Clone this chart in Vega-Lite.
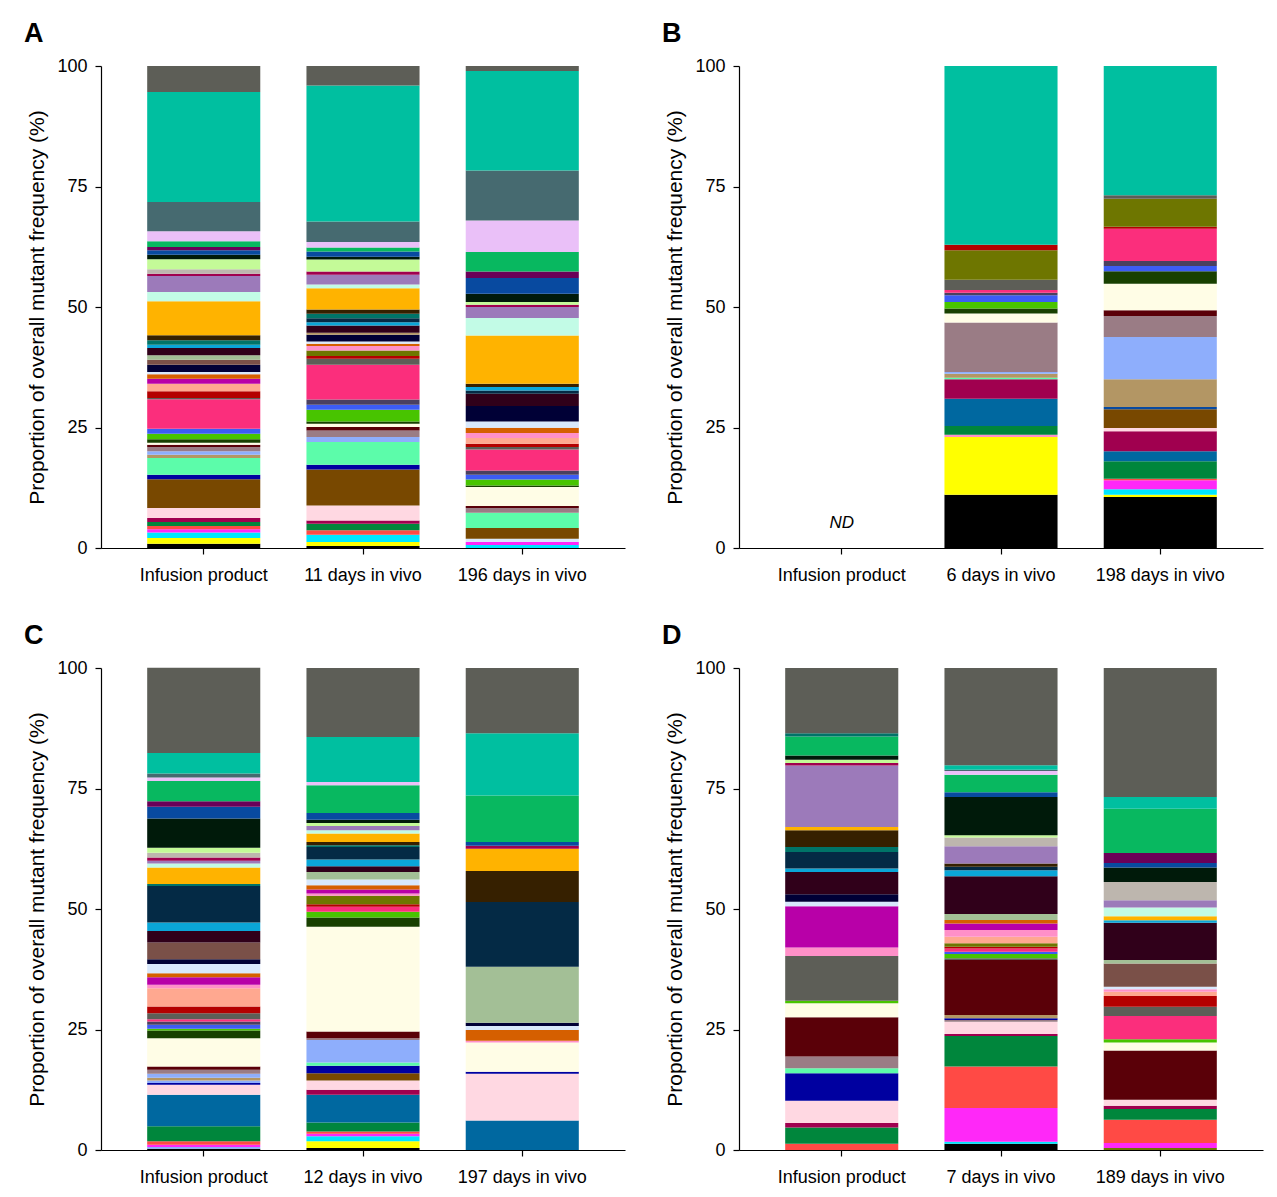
{
"$schema":"https://vega.github.io/schema/vega-lite/v6.json",
"background":"white",
"padding":{"left":24,"top":20,"right":5,"bottom":5},
"config":{"font":"Liberation Sans","view":{"stroke":null},
"axis":{"grid":false,"domainColor":"#000","tickColor":"#000","labelColor":"#000","titleColor":"#000","labelFontSize":18,"titleFontSize":21,"titleFontWeight":"normal","tickSize":6,"labelFont":"Liberation Sans","titleFont":"Liberation Sans","domainWidth":1.2,"tickWidth":1.2},
"axisY":{"labelPadding":8,"titlePadding":9},
"axisX":{"labelPadding":12}},
"spacing":{"row":38,"column":37},
"columns":2,
"resolve":{"scale":{"x":"independent","y":"independent"}},
"data":{"values":[
{"p":"A","b":"Infusion product","o":1,"c":"black","v":0.90},
{"p":"A","b":"Infusion product","o":2,"c":"yellow","v":1.18},
{"p":"A","b":"Infusion product","o":3,"c":"aqua","v":1.11},
{"p":"A","b":"Infusion product","o":4,"c":"fuchsia","v":0.69},
{"p":"A","b":"Infusion product","o":5,"c":"coral","v":0.69},
{"p":"A","b":"Infusion product","o":6,"c":"forest","v":0.83},
{"p":"A","b":"Infusion product","o":7,"c":"crimson","v":0.83},
{"p":"A","b":"Infusion product","o":8,"c":"palepink","v":2.07},
{"p":"A","b":"Infusion product","o":9,"c":"brown","v":5.95},
{"p":"A","b":"Infusion product","o":10,"c":"darkblue","v":0.97},
{"p":"A","b":"Infusion product","o":11,"c":"seafoam","v":3.46},
{"p":"A","b":"Infusion product","o":12,"c":"tan","v":0.69},
{"p":"A","b":"Infusion product","o":13,"c":"periwinkle","v":0.69},
{"p":"A","b":"Infusion product","o":14,"c":"greymauve","v":0.90},
{"p":"A","b":"Infusion product","o":15,"c":"darkred","v":0.48},
{"p":"A","b":"Infusion product","o":16,"c":"cream","v":0.41},
{"p":"A","b":"Infusion product","o":17,"c":"dkgreen2","v":0.69},
{"p":"A","b":"Infusion product","o":18,"c":"lgreen","v":1.18},
{"p":"A","b":"Infusion product","o":19,"c":"blue","v":1.04},
{"p":"A","b":"Infusion product","o":20,"c":"hotpink","v":6.09},
{"p":"A","b":"Infusion product","o":21,"c":"grey","v":0.28},
{"p":"A","b":"Infusion product","o":22,"c":"red","v":1.38},
{"p":"A","b":"Infusion product","o":23,"c":"salmon","v":1.59},
{"p":"A","b":"Infusion product","o":24,"c":"magenta","v":1.04},
{"p":"A","b":"Infusion product","o":25,"c":"rust","v":0.90},
{"p":"A","b":"Infusion product","o":26,"c":"paleblue","v":0.48},
{"p":"A","b":"Infusion product","o":27,"c":"midnight","v":1.52},
{"p":"A","b":"Infusion product","o":28,"c":"brownred","v":1.04},
{"p":"A","b":"Infusion product","o":29,"c":"sage","v":0.90},
{"p":"A","b":"Infusion product","o":30,"c":"maroondark","v":1.52},
{"p":"A","b":"Infusion product","o":31,"c":"cyanblue","v":0.69},
{"p":"A","b":"Infusion product","o":32,"c":"tealdark","v":0.90},
{"p":"A","b":"Infusion product","o":33,"c":"darkbrown","v":1.04},
{"p":"A","b":"Infusion product","o":34,"c":"orange","v":7.05},
{"p":"A","b":"Infusion product","o":35,"c":"mint","v":1.94},
{"p":"A","b":"Infusion product","o":36,"c":"mauve","v":3.32},
{"p":"A","b":"Infusion product","o":37,"c":"crimson","v":0.48},
{"p":"A","b":"Infusion product","o":38,"c":"silver","v":0.90},
{"p":"A","b":"Infusion product","o":39,"c":"lime","v":2.07},
{"p":"A","b":"Infusion product","o":40,"c":"darkgreen","v":0.97},
{"p":"A","b":"Infusion product","o":41,"c":"navy","v":0.90},
{"p":"A","b":"Infusion product","o":42,"c":"purple","v":0.69},
{"p":"A","b":"Infusion product","o":43,"c":"green","v":1.18},
{"p":"A","b":"Infusion product","o":44,"c":"lavender","v":2.07},
{"p":"A","b":"Infusion product","o":45,"c":"slate","v":6.09},
{"p":"A","b":"Infusion product","o":46,"c":"teal","v":22.82},
{"p":"A","b":"Infusion product","o":47,"c":"grey","v":5.39},
{"p":"A","b":"11 days in vivo","o":1,"c":"black","v":0.41},
{"p":"A","b":"11 days in vivo","o":2,"c":"yellow","v":0.83},
{"p":"A","b":"11 days in vivo","o":3,"c":"aqua","v":1.52},
{"p":"A","b":"11 days in vivo","o":4,"c":"coral","v":0.90},
{"p":"A","b":"11 days in vivo","o":5,"c":"forest","v":1.38},
{"p":"A","b":"11 days in vivo","o":6,"c":"crimson","v":0.69},
{"p":"A","b":"11 days in vivo","o":7,"c":"palepink","v":3.11},
{"p":"A","b":"11 days in vivo","o":8,"c":"brown","v":7.47},
{"p":"A","b":"11 days in vivo","o":9,"c":"darkblue","v":0.97},
{"p":"A","b":"11 days in vivo","o":10,"c":"seafoam","v":4.70},
{"p":"A","b":"11 days in vivo","o":11,"c":"periwinkle","v":1.04},
{"p":"A","b":"11 days in vivo","o":12,"c":"greymauve","v":1.38},
{"p":"A","b":"11 days in vivo","o":13,"c":"darkred","v":0.69},
{"p":"A","b":"11 days in vivo","o":14,"c":"cream","v":0.69},
{"p":"A","b":"11 days in vivo","o":15,"c":"dkgreen2","v":0.48},
{"p":"A","b":"11 days in vivo","o":16,"c":"lgreen","v":2.42},
{"p":"A","b":"11 days in vivo","o":17,"c":"blue","v":1.04},
{"p":"A","b":"11 days in vivo","o":18,"c":"slatepurple","v":1.11},
{"p":"A","b":"11 days in vivo","o":19,"c":"hotpink","v":7.19},
{"p":"A","b":"11 days in vivo","o":20,"c":"grey","v":1.24},
{"p":"A","b":"11 days in vivo","o":21,"c":"red","v":0.55},
{"p":"A","b":"11 days in vivo","o":22,"c":"olive","v":1.18},
{"p":"A","b":"11 days in vivo","o":23,"c":"pink","v":0.90},
{"p":"A","b":"11 days in vivo","o":24,"c":"rust","v":0.48},
{"p":"A","b":"11 days in vivo","o":25,"c":"paleblue","v":0.48},
{"p":"A","b":"11 days in vivo","o":26,"c":"midnight","v":1.38},
{"p":"A","b":"11 days in vivo","o":27,"c":"tan","v":0.41},
{"p":"A","b":"11 days in vivo","o":28,"c":"maroondark","v":1.52},
{"p":"A","b":"11 days in vivo","o":29,"c":"cyanblue","v":0.69},
{"p":"A","b":"11 days in vivo","o":30,"c":"darknavy","v":0.83},
{"p":"A","b":"11 days in vivo","o":31,"c":"tealdark","v":0.90},
{"p":"A","b":"11 days in vivo","o":32,"c":"darkbrown","v":0.90},
{"p":"A","b":"11 days in vivo","o":33,"c":"orange","v":4.43},
{"p":"A","b":"11 days in vivo","o":34,"c":"mint","v":0.76},
{"p":"A","b":"11 days in vivo","o":35,"c":"mauve","v":2.01},
{"p":"A","b":"11 days in vivo","o":36,"c":"crimson","v":0.69},
{"p":"A","b":"11 days in vivo","o":37,"c":"lime","v":2.49},
{"p":"A","b":"11 days in vivo","o":38,"c":"darkgreen","v":0.55},
{"p":"A","b":"11 days in vivo","o":39,"c":"navy","v":1.11},
{"p":"A","b":"11 days in vivo","o":40,"c":"green","v":0.83},
{"p":"A","b":"11 days in vivo","o":41,"c":"lavender","v":1.11},
{"p":"A","b":"11 days in vivo","o":42,"c":"slate","v":4.29},
{"p":"A","b":"11 days in vivo","o":43,"c":"teal","v":28.22},
{"p":"A","b":"11 days in vivo","o":44,"c":"grey","v":4.01},
{"p":"A","b":"196 days in vivo","o":1,"c":"aqua","v":0.62},
{"p":"A","b":"196 days in vivo","o":2,"c":"fuchsia","v":0.62},
{"p":"A","b":"196 days in vivo","o":3,"c":"paleblue","v":0.69},
{"p":"A","b":"196 days in vivo","o":4,"c":"brown","v":2.21},
{"p":"A","b":"196 days in vivo","o":5,"c":"seafoam","v":3.18},
{"p":"A","b":"196 days in vivo","o":6,"c":"greymauve","v":0.97},
{"p":"A","b":"196 days in vivo","o":7,"c":"darkred","v":0.41},
{"p":"A","b":"196 days in vivo","o":8,"c":"cream","v":3.94},
{"p":"A","b":"196 days in vivo","o":9,"c":"dkgreen2","v":0.35},
{"p":"A","b":"196 days in vivo","o":10,"c":"lgreen","v":1.24},
{"p":"A","b":"196 days in vivo","o":11,"c":"blue","v":0.97},
{"p":"A","b":"196 days in vivo","o":12,"c":"slatepurple","v":0.90},
{"p":"A","b":"196 days in vivo","o":13,"c":"hotpink","v":4.36},
{"p":"A","b":"196 days in vivo","o":14,"c":"grey","v":0.48},
{"p":"A","b":"196 days in vivo","o":15,"c":"red","v":0.69},
{"p":"A","b":"196 days in vivo","o":16,"c":"salmon","v":1.18},
{"p":"A","b":"196 days in vivo","o":17,"c":"pink","v":1.04},
{"p":"A","b":"196 days in vivo","o":18,"c":"rust","v":1.11},
{"p":"A","b":"196 days in vivo","o":19,"c":"paleblue","v":1.31},
{"p":"A","b":"196 days in vivo","o":20,"c":"midnight","v":3.18},
{"p":"A","b":"196 days in vivo","o":21,"c":"maroondark","v":2.56},
{"p":"A","b":"196 days in vivo","o":22,"c":"darknavy","v":0.69},
{"p":"A","b":"196 days in vivo","o":23,"c":"cyanblue","v":0.69},
{"p":"A","b":"196 days in vivo","o":24,"c":"darkbrown","v":0.69},
{"p":"A","b":"196 days in vivo","o":25,"c":"orange","v":10.03},
{"p":"A","b":"196 days in vivo","o":26,"c":"mint","v":3.60},
{"p":"A","b":"196 days in vivo","o":27,"c":"mauve","v":2.28},
{"p":"A","b":"196 days in vivo","o":28,"c":"crimson","v":0.48},
{"p":"A","b":"196 days in vivo","o":29,"c":"lime","v":0.55},
{"p":"A","b":"196 days in vivo","o":30,"c":"darkgreen","v":1.73},
{"p":"A","b":"196 days in vivo","o":31,"c":"navy","v":3.25},
{"p":"A","b":"196 days in vivo","o":32,"c":"purple","v":1.38},
{"p":"A","b":"196 days in vivo","o":33,"c":"green","v":4.01},
{"p":"A","b":"196 days in vivo","o":34,"c":"lavender","v":6.57},
{"p":"A","b":"196 days in vivo","o":35,"c":"slate","v":10.37},
{"p":"A","b":"196 days in vivo","o":36,"c":"teal","v":20.61},
{"p":"A","b":"196 days in vivo","o":37,"c":"grey","v":1.04},
{"p":"B","b":"6 days in vivo","o":1,"c":"black","v":11.07},
{"p":"B","b":"6 days in vivo","o":2,"c":"yellow","v":11.96},
{"p":"B","b":"6 days in vivo","o":3,"c":"pink","v":0.48},
{"p":"B","b":"6 days in vivo","o":4,"c":"forest","v":1.80},
{"p":"B","b":"6 days in vivo","o":5,"c":"steelblue","v":5.67},
{"p":"B","b":"6 days in vivo","o":6,"c":"crimson","v":4.01},
{"p":"B","b":"6 days in vivo","o":7,"c":"seafoam","v":0.35},
{"p":"B","b":"6 days in vivo","o":8,"c":"tan","v":0.83},
{"p":"B","b":"6 days in vivo","o":9,"c":"periwinkle","v":0.35},
{"p":"B","b":"6 days in vivo","o":10,"c":"greymauve","v":10.24},
{"p":"B","b":"6 days in vivo","o":11,"c":"cream","v":1.87},
{"p":"B","b":"6 days in vivo","o":12,"c":"dkgreen2","v":1.04},
{"p":"B","b":"6 days in vivo","o":13,"c":"lgreen","v":1.38},
{"p":"B","b":"6 days in vivo","o":14,"c":"blue","v":1.38},
{"p":"B","b":"6 days in vivo","o":15,"c":"slatepurple","v":0.55},
{"p":"B","b":"6 days in vivo","o":16,"c":"hotpink","v":0.55},
{"p":"B","b":"6 days in vivo","o":17,"c":"grey","v":2.14},
{"p":"B","b":"6 days in vivo","o":18,"c":"olive","v":6.09},
{"p":"B","b":"6 days in vivo","o":19,"c":"red","v":1.18},
{"p":"B","b":"6 days in vivo","o":20,"c":"teal","v":37.07},
{"p":"B","b":"198 days in vivo","o":1,"c":"black","v":10.58},
{"p":"B","b":"198 days in vivo","o":2,"c":"yellow","v":0.48},
{"p":"B","b":"198 days in vivo","o":3,"c":"aqua","v":1.11},
{"p":"B","b":"198 days in vivo","o":4,"c":"fuchsia","v":1.87},
{"p":"B","b":"198 days in vivo","o":5,"c":"coral","v":0.35},
{"p":"B","b":"198 days in vivo","o":6,"c":"forest","v":3.60},
{"p":"B","b":"198 days in vivo","o":7,"c":"steelblue","v":2.07},
{"p":"B","b":"198 days in vivo","o":8,"c":"crimson","v":4.15},
{"p":"B","b":"198 days in vivo","o":9,"c":"palepink","v":0.69},
{"p":"B","b":"198 days in vivo","o":10,"c":"brown","v":3.87},
{"p":"B","b":"198 days in vivo","o":11,"c":"navy","v":0.48},
{"p":"B","b":"198 days in vivo","o":12,"c":"tan","v":5.74},
{"p":"B","b":"198 days in vivo","o":13,"c":"periwinkle","v":8.78},
{"p":"B","b":"198 days in vivo","o":14,"c":"greymauve","v":4.36},
{"p":"B","b":"198 days in vivo","o":15,"c":"darkred","v":1.18},
{"p":"B","b":"198 days in vivo","o":16,"c":"cream","v":5.53},
{"p":"B","b":"198 days in vivo","o":17,"c":"dkgreen2","v":2.56},
{"p":"B","b":"198 days in vivo","o":18,"c":"blue","v":1.11},
{"p":"B","b":"198 days in vivo","o":19,"c":"slatepurple","v":1.04},
{"p":"B","b":"198 days in vivo","o":20,"c":"hotpink","v":6.71},
{"p":"B","b":"198 days in vivo","o":21,"c":"red","v":0.41},
{"p":"B","b":"198 days in vivo","o":22,"c":"olive","v":5.81},
{"p":"B","b":"198 days in vivo","o":23,"c":"grey","v":0.69},
{"p":"B","b":"198 days in vivo","o":24,"c":"teal","v":26.83},
{"p":"C","b":"Infusion product","o":1,"c":"black","v":0.28},
{"p":"C","b":"Infusion product","o":2,"c":"periwinkle","v":0.35},
{"p":"C","b":"Infusion product","o":3,"c":"fuchsia","v":0.48},
{"p":"C","b":"Infusion product","o":4,"c":"coral","v":0.69},
{"p":"C","b":"Infusion product","o":5,"c":"forest","v":3.11},
{"p":"C","b":"Infusion product","o":6,"c":"steelblue","v":6.56},
{"p":"C","b":"Infusion product","o":7,"c":"palepink","v":2.07},
{"p":"C","b":"Infusion product","o":8,"c":"darkblue","v":0.35},
{"p":"C","b":"Infusion product","o":9,"c":"periwinkle","v":0.55},
{"p":"C","b":"Infusion product","o":10,"c":"tan","v":0.55},
{"p":"C","b":"Infusion product","o":11,"c":"periwinkle","v":0.83},
{"p":"C","b":"Infusion product","o":12,"c":"greymauve","v":0.83},
{"p":"C","b":"Infusion product","o":13,"c":"darkred","v":0.69},
{"p":"C","b":"Infusion product","o":14,"c":"cream","v":5.87},
{"p":"C","b":"Infusion product","o":15,"c":"dkgreen2","v":1.59},
{"p":"C","b":"Infusion product","o":16,"c":"lgreen","v":0.35},
{"p":"C","b":"Infusion product","o":17,"c":"blue","v":0.83},
{"p":"C","b":"Infusion product","o":18,"c":"slatepurple","v":0.69},
{"p":"C","b":"Infusion product","o":19,"c":"hotpink","v":0.48},
{"p":"C","b":"Infusion product","o":20,"c":"grey","v":1.24},
{"p":"C","b":"Infusion product","o":21,"c":"red","v":1.38},
{"p":"C","b":"Infusion product","o":22,"c":"salmon","v":3.80},
{"p":"C","b":"Infusion product","o":23,"c":"pink","v":0.69},
{"p":"C","b":"Infusion product","o":24,"c":"magenta","v":1.59},
{"p":"C","b":"Infusion product","o":25,"c":"rust","v":0.83},
{"p":"C","b":"Infusion product","o":26,"c":"paleblue","v":1.93},
{"p":"C","b":"Infusion product","o":27,"c":"midnight","v":0.97},
{"p":"C","b":"Infusion product","o":28,"c":"brownred","v":3.45},
{"p":"C","b":"Infusion product","o":29,"c":"maroondark","v":2.42},
{"p":"C","b":"Infusion product","o":30,"c":"cyanblue","v":1.73},
{"p":"C","b":"Infusion product","o":31,"c":"darknavy","v":7.59},
{"p":"C","b":"Infusion product","o":32,"c":"tealdark","v":0.41},
{"p":"C","b":"Infusion product","o":33,"c":"orange","v":3.45},
{"p":"C","b":"Infusion product","o":34,"c":"mint","v":0.83},
{"p":"C","b":"Infusion product","o":35,"c":"mauve","v":0.55},
{"p":"C","b":"Infusion product","o":36,"c":"crimson","v":0.69},
{"p":"C","b":"Infusion product","o":37,"c":"silver","v":0.97},
{"p":"C","b":"Infusion product","o":38,"c":"lime","v":1.04},
{"p":"C","b":"Infusion product","o":39,"c":"darkgreen","v":6.07},
{"p":"C","b":"Infusion product","o":40,"c":"navy","v":2.42},
{"p":"C","b":"Infusion product","o":41,"c":"purple","v":1.17},
{"p":"C","b":"Infusion product","o":42,"c":"green","v":4.21},
{"p":"C","b":"Infusion product","o":43,"c":"lavender","v":0.69},
{"p":"C","b":"Infusion product","o":44,"c":"slate","v":0.83},
{"p":"C","b":"Infusion product","o":45,"c":"teal","v":4.28},
{"p":"C","b":"Infusion product","o":46,"c":"grey","v":17.67},
{"p":"C","b":"12 days in vivo","o":1,"c":"black","v":0.41},
{"p":"C","b":"12 days in vivo","o":2,"c":"yellow","v":1.38},
{"p":"C","b":"12 days in vivo","o":3,"c":"aqua","v":1.04},
{"p":"C","b":"12 days in vivo","o":4,"c":"fuchsia","v":0.55},
{"p":"C","b":"12 days in vivo","o":5,"c":"coral","v":0.48},
{"p":"C","b":"12 days in vivo","o":6,"c":"forest","v":1.86},
{"p":"C","b":"12 days in vivo","o":7,"c":"steelblue","v":5.73},
{"p":"C","b":"12 days in vivo","o":8,"c":"crimson","v":1.04},
{"p":"C","b":"12 days in vivo","o":9,"c":"palepink","v":1.93},
{"p":"C","b":"12 days in vivo","o":10,"c":"brown","v":1.52},
{"p":"C","b":"12 days in vivo","o":11,"c":"darkblue","v":1.52},
{"p":"C","b":"12 days in vivo","o":12,"c":"seafoam","v":0.69},
{"p":"C","b":"12 days in vivo","o":13,"c":"periwinkle","v":4.69},
{"p":"C","b":"12 days in vivo","o":14,"c":"greymauve","v":0.35},
{"p":"C","b":"12 days in vivo","o":15,"c":"darkred","v":1.38},
{"p":"C","b":"12 days in vivo","o":16,"c":"cream","v":21.74},
{"p":"C","b":"12 days in vivo","o":17,"c":"dkgreen2","v":1.93},
{"p":"C","b":"12 days in vivo","o":18,"c":"lgreen","v":1.17},
{"p":"C","b":"12 days in vivo","o":19,"c":"hotpink","v":1.04},
{"p":"C","b":"12 days in vivo","o":20,"c":"red","v":0.55},
{"p":"C","b":"12 days in vivo","o":21,"c":"olive","v":1.73},
{"p":"C","b":"12 days in vivo","o":22,"c":"pink","v":0.48},
{"p":"C","b":"12 days in vivo","o":23,"c":"magenta","v":0.83},
{"p":"C","b":"12 days in vivo","o":24,"c":"rust","v":0.90},
{"p":"C","b":"12 days in vivo","o":25,"c":"paleblue","v":1.17},
{"p":"C","b":"12 days in vivo","o":26,"c":"sage","v":1.59},
{"p":"C","b":"12 days in vivo","o":27,"c":"maroondark","v":1.17},
{"p":"C","b":"12 days in vivo","o":28,"c":"cyanblue","v":1.38},
{"p":"C","b":"12 days in vivo","o":29,"c":"darknavy","v":2.62},
{"p":"C","b":"12 days in vivo","o":30,"c":"tealdark","v":0.35},
{"p":"C","b":"12 days in vivo","o":31,"c":"darkbrown","v":0.69},
{"p":"C","b":"12 days in vivo","o":32,"c":"orange","v":1.73},
{"p":"C","b":"12 days in vivo","o":33,"c":"mint","v":0.69},
{"p":"C","b":"12 days in vivo","o":34,"c":"mauve","v":0.90},
{"p":"C","b":"12 days in vivo","o":35,"c":"lime","v":0.62},
{"p":"C","b":"12 days in vivo","o":36,"c":"darkgreen","v":0.69},
{"p":"C","b":"12 days in vivo","o":37,"c":"navy","v":1.38},
{"p":"C","b":"12 days in vivo","o":38,"c":"green","v":5.73},
{"p":"C","b":"12 days in vivo","o":39,"c":"lavender","v":0.69},
{"p":"C","b":"12 days in vivo","o":40,"c":"teal","v":9.32},
{"p":"C","b":"12 days in vivo","o":41,"c":"grey","v":14.35},
{"p":"C","b":"197 days in vivo","o":1,"c":"steelblue","v":6.14},
{"p":"C","b":"197 days in vivo","o":2,"c":"palepink","v":9.66},
{"p":"C","b":"197 days in vivo","o":3,"c":"darkblue","v":0.41},
{"p":"C","b":"197 days in vivo","o":4,"c":"cream","v":6.07},
{"p":"C","b":"197 days in vivo","o":5,"c":"pink","v":0.41},
{"p":"C","b":"197 days in vivo","o":6,"c":"rust","v":2.21},
{"p":"C","b":"197 days in vivo","o":7,"c":"paleblue","v":0.83},
{"p":"C","b":"197 days in vivo","o":8,"c":"midnight","v":0.69},
{"p":"C","b":"197 days in vivo","o":9,"c":"sage","v":11.59},
{"p":"C","b":"197 days in vivo","o":10,"c":"darknavy","v":13.46},
{"p":"C","b":"197 days in vivo","o":11,"c":"darkbrown","v":6.42},
{"p":"C","b":"197 days in vivo","o":12,"c":"orange","v":4.62},
{"p":"C","b":"197 days in vivo","o":13,"c":"crimson","v":0.62},
{"p":"C","b":"197 days in vivo","o":14,"c":"navy","v":0.76},
{"p":"C","b":"197 days in vivo","o":15,"c":"green","v":9.66},
{"p":"C","b":"197 days in vivo","o":16,"c":"teal","v":12.91},
{"p":"C","b":"197 days in vivo","o":17,"c":"grey","v":13.53},
{"p":"D","b":"Infusion product","o":1,"c":"coral","v":1.31},
{"p":"D","b":"Infusion product","o":2,"c":"forest","v":3.38},
{"p":"D","b":"Infusion product","o":3,"c":"crimson","v":0.90},
{"p":"D","b":"Infusion product","o":4,"c":"palepink","v":4.62},
{"p":"D","b":"Infusion product","o":5,"c":"darkblue","v":5.73},
{"p":"D","b":"Infusion product","o":6,"c":"seafoam","v":1.04},
{"p":"D","b":"Infusion product","o":7,"c":"greymauve","v":2.42},
{"p":"D","b":"Infusion product","o":8,"c":"darkred","v":8.14},
{"p":"D","b":"Infusion product","o":9,"c":"cream","v":2.90},
{"p":"D","b":"Infusion product","o":10,"c":"lgreen","v":0.55},
{"p":"D","b":"Infusion product","o":11,"c":"grey","v":9.25},
{"p":"D","b":"Infusion product","o":12,"c":"pink","v":1.79},
{"p":"D","b":"Infusion product","o":13,"c":"magenta","v":8.56},
{"p":"D","b":"Infusion product","o":14,"c":"paleblue","v":0.90},
{"p":"D","b":"Infusion product","o":15,"c":"midnight","v":1.59},
{"p":"D","b":"Infusion product","o":16,"c":"maroondark","v":4.62},
{"p":"D","b":"Infusion product","o":17,"c":"cyanblue","v":0.69},
{"p":"D","b":"Infusion product","o":18,"c":"darknavy","v":3.45},
{"p":"D","b":"Infusion product","o":19,"c":"tealdark","v":1.04},
{"p":"D","b":"Infusion product","o":20,"c":"darkbrown","v":3.45},
{"p":"D","b":"Infusion product","o":21,"c":"orange","v":0.69},
{"p":"D","b":"Infusion product","o":22,"c":"mauve","v":12.77},
{"p":"D","b":"Infusion product","o":23,"c":"crimson","v":0.48},
{"p":"D","b":"Infusion product","o":24,"c":"lime","v":0.69},
{"p":"D","b":"Infusion product","o":25,"c":"darkgreen","v":0.90},
{"p":"D","b":"Infusion product","o":26,"c":"green","v":3.93},
{"p":"D","b":"Infusion product","o":27,"c":"tealdark","v":0.69},
{"p":"D","b":"Infusion product","o":28,"c":"grey","v":13.53},
{"p":"D","b":"7 days in vivo","o":1,"c":"black","v":1.31},
{"p":"D","b":"7 days in vivo","o":2,"c":"aqua","v":0.41},
{"p":"D","b":"7 days in vivo","o":3,"c":"fuchsia","v":6.97},
{"p":"D","b":"7 days in vivo","o":4,"c":"coral","v":8.63},
{"p":"D","b":"7 days in vivo","o":5,"c":"forest","v":6.35},
{"p":"D","b":"7 days in vivo","o":6,"c":"crimson","v":0.41},
{"p":"D","b":"7 days in vivo","o":7,"c":"palepink","v":2.55},
{"p":"D","b":"7 days in vivo","o":8,"c":"greymauve","v":0.35},
{"p":"D","b":"7 days in vivo","o":9,"c":"darkblue","v":0.35},
{"p":"D","b":"7 days in vivo","o":10,"c":"tan","v":0.69},
{"p":"D","b":"7 days in vivo","o":11,"c":"darkred","v":11.39},
{"p":"D","b":"7 days in vivo","o":12,"c":"grey","v":0.35},
{"p":"D","b":"7 days in vivo","o":13,"c":"lgreen","v":0.90},
{"p":"D","b":"7 days in vivo","o":14,"c":"blue","v":0.48},
{"p":"D","b":"7 days in vivo","o":15,"c":"hotpink","v":0.69},
{"p":"D","b":"7 days in vivo","o":16,"c":"red","v":0.35},
{"p":"D","b":"7 days in vivo","o":17,"c":"olive","v":0.69},
{"p":"D","b":"7 days in vivo","o":18,"c":"salmon","v":1.38},
{"p":"D","b":"7 days in vivo","o":19,"c":"pink","v":1.38},
{"p":"D","b":"7 days in vivo","o":20,"c":"magenta","v":1.38},
{"p":"D","b":"7 days in vivo","o":21,"c":"rust","v":0.69},
{"p":"D","b":"7 days in vivo","o":22,"c":"sage","v":1.24},
{"p":"D","b":"7 days in vivo","o":23,"c":"maroondark","v":7.87},
{"p":"D","b":"7 days in vivo","o":24,"c":"cyanblue","v":1.24},
{"p":"D","b":"7 days in vivo","o":25,"c":"darknavy","v":0.69},
{"p":"D","b":"7 days in vivo","o":26,"c":"darkbrown","v":0.69},
{"p":"D","b":"7 days in vivo","o":27,"c":"mauve","v":3.59},
{"p":"D","b":"7 days in vivo","o":28,"c":"silver","v":1.79},
{"p":"D","b":"7 days in vivo","o":29,"c":"lime","v":0.48},
{"p":"D","b":"7 days in vivo","o":30,"c":"darkgreen","v":7.94},
{"p":"D","b":"7 days in vivo","o":31,"c":"navy","v":0.97},
{"p":"D","b":"7 days in vivo","o":32,"c":"green","v":3.66},
{"p":"D","b":"7 days in vivo","o":33,"c":"lavender","v":0.76},
{"p":"D","b":"7 days in vivo","o":34,"c":"slate","v":0.28},
{"p":"D","b":"7 days in vivo","o":35,"c":"teal","v":0.90},
{"p":"D","b":"7 days in vivo","o":36,"c":"grey","v":20.22},
{"p":"D","b":"189 days in vivo","o":1,"c":"olive","v":0.41},
{"p":"D","b":"189 days in vivo","o":2,"c":"fuchsia","v":1.04},
{"p":"D","b":"189 days in vivo","o":3,"c":"coral","v":4.83},
{"p":"D","b":"189 days in vivo","o":4,"c":"forest","v":2.21},
{"p":"D","b":"189 days in vivo","o":5,"c":"crimson","v":0.69},
{"p":"D","b":"189 days in vivo","o":6,"c":"palepink","v":1.24},
{"p":"D","b":"189 days in vivo","o":7,"c":"darkred","v":10.21},
{"p":"D","b":"189 days in vivo","o":8,"c":"cream","v":1.66},
{"p":"D","b":"189 days in vivo","o":9,"c":"lgreen","v":0.69},
{"p":"D","b":"189 days in vivo","o":10,"c":"hotpink","v":4.83},
{"p":"D","b":"189 days in vivo","o":11,"c":"grey","v":1.93},
{"p":"D","b":"189 days in vivo","o":12,"c":"red","v":2.21},
{"p":"D","b":"189 days in vivo","o":13,"c":"salmon","v":0.90},
{"p":"D","b":"189 days in vivo","o":14,"c":"pink","v":0.48},
{"p":"D","b":"189 days in vivo","o":15,"c":"paleblue","v":0.55},
{"p":"D","b":"189 days in vivo","o":16,"c":"brownred","v":4.83},
{"p":"D","b":"189 days in vivo","o":17,"c":"sage","v":0.69},
{"p":"D","b":"189 days in vivo","o":18,"c":"maroondark","v":7.73},
{"p":"D","b":"189 days in vivo","o":19,"c":"cyanblue","v":0.55},
{"p":"D","b":"189 days in vivo","o":20,"c":"orange","v":0.83},
{"p":"D","b":"189 days in vivo","o":21,"c":"mint","v":1.79},
{"p":"D","b":"189 days in vivo","o":22,"c":"mauve","v":1.52},
{"p":"D","b":"189 days in vivo","o":23,"c":"silver","v":3.80},
{"p":"D","b":"189 days in vivo","o":24,"c":"darkgreen","v":2.97},
{"p":"D","b":"189 days in vivo","o":25,"c":"navy","v":0.97},
{"p":"D","b":"189 days in vivo","o":26,"c":"purple","v":2.07},
{"p":"D","b":"189 days in vivo","o":27,"c":"green","v":9.18},
{"p":"D","b":"189 days in vivo","o":28,"c":"teal","v":2.42},
{"p":"D","b":"189 days in vivo","o":29,"c":"grey","v":26.78}
]},
"concat":[
{"width":524,"height":482,
 "title":{"text":"A","anchor":"start","frame":"group","dx":-77,"offset":-12,"fontSize":27,"fontWeight":"bold","baseline":"alphabetic","color":"#000"},
 "transform":[{"filter":"datum.p === 'A'"}],
 "mark":{"type":"bar","strokeWidth":0},
 "encoding":{
  "x":{"field":"b","type":"nominal","scale":{"domain":["Infusion product","11 days in vivo","196 days in vivo"],"paddingInner":0.29,"paddingOuter":0.29},"axis":{"title":null,"labelAngle":0}},
  "y":{"field":"v","type":"quantitative","stack":"zero","scale":{"domain":[0,100],"nice":false},"axis":{"title":"Proportion of overall mutant frequency (%)","values":[0,25,50,75,100]}},
  "color":{"field":"c","type":"nominal","legend":null,"scale":{"domain":["grey","teal","slate","lavender","green","purple","navy","darkgreen","lime","silver","crimson","mauve","mint","orange","darkbrown","tealdark","cyanblue","darknavy","maroondark","sage","brownred","midnight","paleblue","rust","magenta","pink","salmon","red","hotpink","slatepurple","blue","lgreen","dkgreen2","cream","darkred","greymauve","periwinkle","tan","seafoam","darkblue","brown","palepink","forest","coral","fuchsia","aqua","yellow","black","olive","steelblue"],"range":["#5d5e57","#00bfa0","#466a70","#eac0f8","#08b860","#6b0058","#084aa0","#001a0a","#c4fa98","#bdb6ae","#a0004f","#9c7aba","#c2fbe6","#ffb300","#362000","#007468","#0aa6d8","#042a45","#30001a","#a3bf96","#7a5048","#000036","#d8e8fc","#d55f00","#b800a8","#ff90c8","#ffa890","#b40000","#fb2e7c","#4a4060","#3c5cf5","#48c400","#184000","#fffde6","#5a0008","#9a7c85","#8eaefc","#b39664","#5cfcaa","#0000a0","#784800","#ffd8e2","#00863c","#ff4a45","#ff28f8","#00e6ff","#ffff00","#000000","#6e7600","#0068a0"]}},
  "order":{"field":"o","type":"quantitative"}}},
{"width":524,"height":482,
 "title":{"text":"B","anchor":"start","frame":"group","dx":-77,"offset":-12,"fontSize":27,"fontWeight":"bold","baseline":"alphabetic","color":"#000"},
 "layer":[
 {"transform":[{"filter":"datum.p === 'B'"}],
 "mark":{"type":"bar","strokeWidth":0},
 "encoding":{
  "x":{"field":"b","type":"nominal","scale":{"domain":["Infusion product","6 days in vivo","198 days in vivo"],"paddingInner":0.29,"paddingOuter":0.29},"axis":{"title":null,"labelAngle":0}},
  "y":{"field":"v","type":"quantitative","stack":"zero","scale":{"domain":[0,100],"nice":false},"axis":{"title":"Proportion of overall mutant frequency (%)","values":[0,25,50,75,100]}},
  "color":{"field":"c","type":"nominal","legend":null,"scale":{"domain":["grey","teal","slate","lavender","green","purple","navy","darkgreen","lime","silver","crimson","mauve","mint","orange","darkbrown","tealdark","cyanblue","darknavy","maroondark","sage","brownred","midnight","paleblue","rust","magenta","pink","salmon","red","hotpink","slatepurple","blue","lgreen","dkgreen2","cream","darkred","greymauve","periwinkle","tan","seafoam","darkblue","brown","palepink","forest","coral","fuchsia","aqua","yellow","black","olive","steelblue"],"range":["#5d5e57","#00bfa0","#466a70","#eac0f8","#08b860","#6b0058","#084aa0","#001a0a","#c4fa98","#bdb6ae","#a0004f","#9c7aba","#c2fbe6","#ffb300","#362000","#007468","#0aa6d8","#042a45","#30001a","#a3bf96","#7a5048","#000036","#d8e8fc","#d55f00","#b800a8","#ff90c8","#ffa890","#b40000","#fb2e7c","#4a4060","#3c5cf5","#48c400","#184000","#fffde6","#5a0008","#9a7c85","#8eaefc","#b39664","#5cfcaa","#0000a0","#784800","#ffd8e2","#00863c","#ff4a45","#ff28f8","#00e6ff","#ffff00","#000000","#6e7600","#0068a0"]}},
  "order":{"field":"o","type":"quantitative"}}},
 {"data":{"values":[{"b":"Infusion product","v":5.2,"t":"ND"}]},
  "mark":{"type":"text","fontStyle":"italic","fontSize":17,"color":"#000","baseline":"middle"},
  "encoding":{"x":{"field":"b","type":"nominal"},"y":{"field":"v","type":"quantitative"},"text":{"field":"t"}}}
 ]},
{"width":524,"height":482,
 "title":{"text":"C","anchor":"start","frame":"group","dx":-77,"offset":-12,"fontSize":27,"fontWeight":"bold","baseline":"alphabetic","color":"#000"},
 "transform":[{"filter":"datum.p === 'C'"}],
 "mark":{"type":"bar","strokeWidth":0},
 "encoding":{
  "x":{"field":"b","type":"nominal","scale":{"domain":["Infusion product","12 days in vivo","197 days in vivo"],"paddingInner":0.29,"paddingOuter":0.29},"axis":{"title":null,"labelAngle":0}},
  "y":{"field":"v","type":"quantitative","stack":"zero","scale":{"domain":[0,100],"nice":false},"axis":{"title":"Proportion of overall mutant frequency (%)","values":[0,25,50,75,100]}},
  "color":{"field":"c","type":"nominal","legend":null,"scale":{"domain":["grey","teal","slate","lavender","green","purple","navy","darkgreen","lime","silver","crimson","mauve","mint","orange","darkbrown","tealdark","cyanblue","darknavy","maroondark","sage","brownred","midnight","paleblue","rust","magenta","pink","salmon","red","hotpink","slatepurple","blue","lgreen","dkgreen2","cream","darkred","greymauve","periwinkle","tan","seafoam","darkblue","brown","palepink","forest","coral","fuchsia","aqua","yellow","black","olive","steelblue"],"range":["#5d5e57","#00bfa0","#466a70","#eac0f8","#08b860","#6b0058","#084aa0","#001a0a","#c4fa98","#bdb6ae","#a0004f","#9c7aba","#c2fbe6","#ffb300","#362000","#007468","#0aa6d8","#042a45","#30001a","#a3bf96","#7a5048","#000036","#d8e8fc","#d55f00","#b800a8","#ff90c8","#ffa890","#b40000","#fb2e7c","#4a4060","#3c5cf5","#48c400","#184000","#fffde6","#5a0008","#9a7c85","#8eaefc","#b39664","#5cfcaa","#0000a0","#784800","#ffd8e2","#00863c","#ff4a45","#ff28f8","#00e6ff","#ffff00","#000000","#6e7600","#0068a0"]}},
  "order":{"field":"o","type":"quantitative"}}},
{"width":524,"height":482,
 "title":{"text":"D","anchor":"start","frame":"group","dx":-77,"offset":-12,"fontSize":27,"fontWeight":"bold","baseline":"alphabetic","color":"#000"},
 "transform":[{"filter":"datum.p === 'D'"}],
 "mark":{"type":"bar","strokeWidth":0},
 "encoding":{
  "x":{"field":"b","type":"nominal","scale":{"domain":["Infusion product","7 days in vivo","189 days in vivo"],"paddingInner":0.29,"paddingOuter":0.29},"axis":{"title":null,"labelAngle":0}},
  "y":{"field":"v","type":"quantitative","stack":"zero","scale":{"domain":[0,100],"nice":false},"axis":{"title":"Proportion of overall mutant frequency (%)","values":[0,25,50,75,100]}},
  "color":{"field":"c","type":"nominal","legend":null,"scale":{"domain":["grey","teal","slate","lavender","green","purple","navy","darkgreen","lime","silver","crimson","mauve","mint","orange","darkbrown","tealdark","cyanblue","darknavy","maroondark","sage","brownred","midnight","paleblue","rust","magenta","pink","salmon","red","hotpink","slatepurple","blue","lgreen","dkgreen2","cream","darkred","greymauve","periwinkle","tan","seafoam","darkblue","brown","palepink","forest","coral","fuchsia","aqua","yellow","black","olive","steelblue"],"range":["#5d5e57","#00bfa0","#466a70","#eac0f8","#08b860","#6b0058","#084aa0","#001a0a","#c4fa98","#bdb6ae","#a0004f","#9c7aba","#c2fbe6","#ffb300","#362000","#007468","#0aa6d8","#042a45","#30001a","#a3bf96","#7a5048","#000036","#d8e8fc","#d55f00","#b800a8","#ff90c8","#ffa890","#b40000","#fb2e7c","#4a4060","#3c5cf5","#48c400","#184000","#fffde6","#5a0008","#9a7c85","#8eaefc","#b39664","#5cfcaa","#0000a0","#784800","#ffd8e2","#00863c","#ff4a45","#ff28f8","#00e6ff","#ffff00","#000000","#6e7600","#0068a0"]}},
  "order":{"field":"o","type":"quantitative"}}}
]
}
